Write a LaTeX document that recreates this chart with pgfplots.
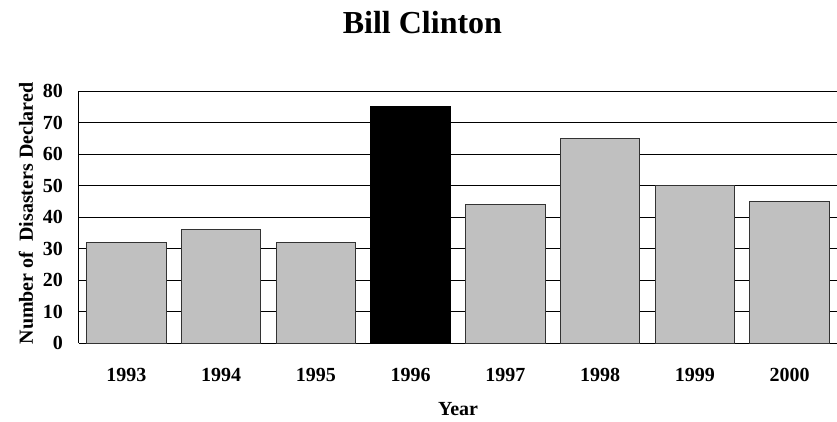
\documentclass[border=0pt]{standalone}
\usepackage{pgfplots}
\pgfplotsset{compat=1.18}
\usepackage{fontspec}
\setmainfont{Liberation Serif}
\definecolor{barfill}{HTML}{C0C0C0}
\definecolor{baredge}{HTML}{333333}

\newcommand{\lbl}{\fontsize{20bp}{24bp}\selectfont\bfseries}

\begin{document}
\begin{tikzpicture}
\path[use as bounding box] (-79bp,-79bp) rectangle (758bp,343bp);
\begin{axis}[
  at={(0,0)}, anchor=south west,
  scale only axis,
  width=758bp, height=252bp,
  xmin=-0.5, xmax=7.5,
  ymin=0, ymax=80,
  ytick={0,10,...,80},
  xtick={0,...,7},
  xticklabels={1993,1994,1995,1996,1997,1998,1999,2000},
  axis x line*=bottom,
  axis y line*=left,
  axis line style={black, line width=1bp, -},
  ymajorgrids,
  grid style={black, line width=1bp},
  major tick length=0pt,
  /pgf/number format/assume math mode=true,
  ticklabel style={font=\lbl},
  xticklabel style={anchor=base, inner sep=0pt, yshift=-38bp},
  yticklabel style={anchor=east, inner sep=0pt, xshift=-16bp},
  xlabel={Year},
  xlabel style={font=\lbl, at={(rel axis cs:0.5,0)}, anchor=base, inner sep=0pt, yshift=-72bp},
  ylabel={Number of~ Disasters Declared},
  % the label is turned by 90 degrees, so its own x points up and y points left
  ylabel style={font=\lbl, at={(rel axis cs:0,0.5)}, anchor=base, inner sep=0pt, xshift=3.5bp, yshift=46bp},
  title={Bill Clinton},
  every axis title shift=0pt,
  title style={font=\fontsize{32bp}{38bp}\selectfont\bfseries, at={(rel axis cs:0,1)}, anchor=base, inner sep=0pt, xshift=343.4bp, yshift=58bp},
  ybar, bar width=79.3bp, bar shift=0pt,
  clip=false,
]
\addplot[fill=barfill, draw=baredge, line width=1bp]
  coordinates {(0,32) (1,36) (2,32) (4,44) (5,65) (6,50) (7,45)};
\addplot[fill=black, draw=black, line width=1bp]
  coordinates {(3,75)};
\end{axis}
\end{tikzpicture}
\end{document}
